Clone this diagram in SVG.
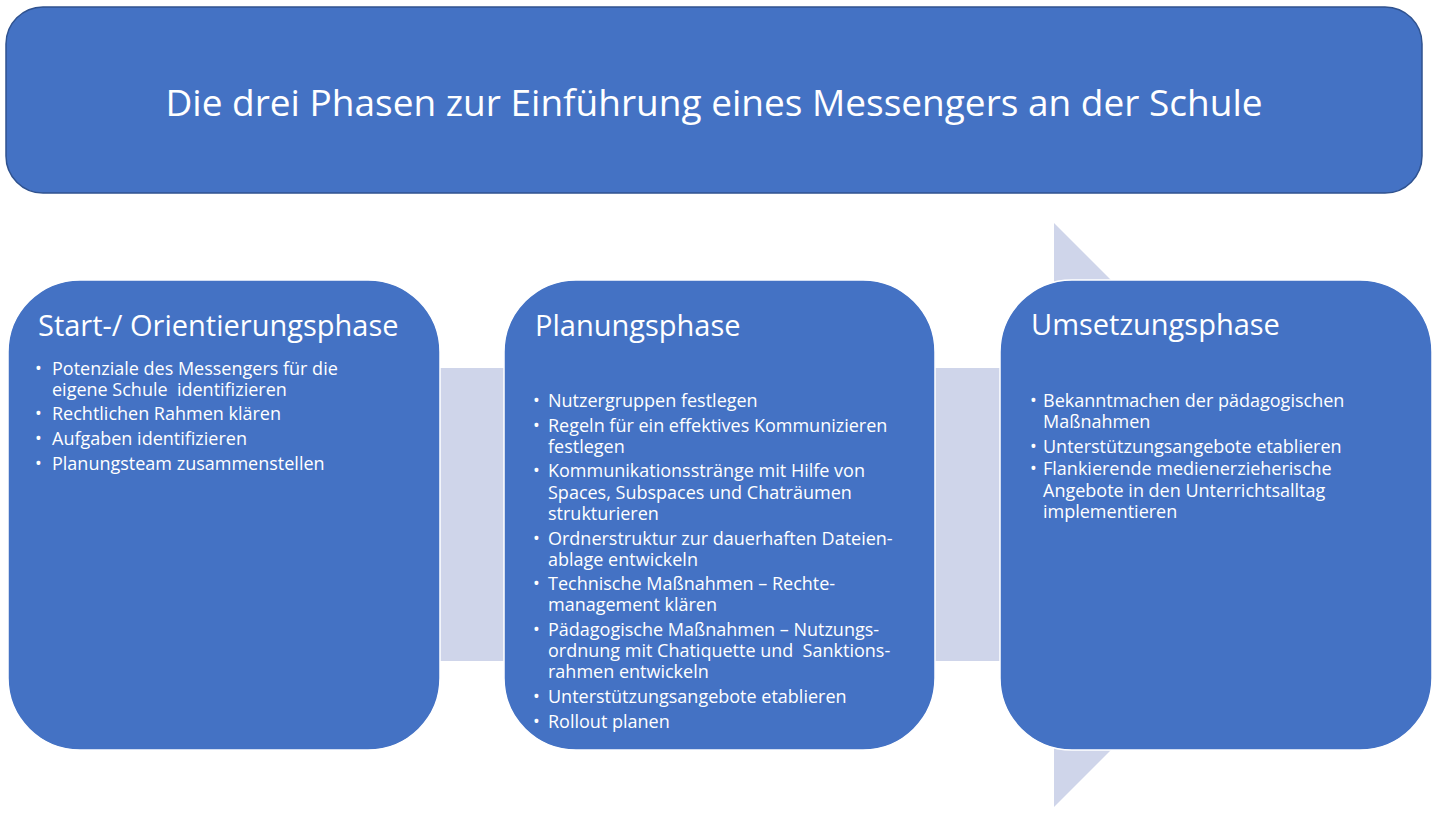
<svg xmlns="http://www.w3.org/2000/svg" width="1440" height="827" viewBox="0 0 1440 827">
<style>
.box{fill:#4472C4;stroke:#FFFFFF;stroke-width:1.5}
.title{font-family:"Open Sans","Noto Sans",sans-serif;font-size:37px;fill:#FFFFFF}
.head{font-family:"Open Sans","Noto Sans",sans-serif;font-size:29px;fill:#FFFFFF}
.body{font-family:"Open Sans","Noto Sans",sans-serif;font-size:18px;fill:#FFFFFF;white-space:pre}
</style>
<rect width="1440" height="827" fill="#FFFFFF"/>
<g id="connectors">
<path d="M100,368 L1054,368 L1054,223 L1346,515 L1054,807 L1054,661 L100,661 Z" fill="#CFD5EA"/>
</g>
<g id="title">
<rect x="6" y="7" width="1416" height="186" rx="37" ry="37" fill="#4472C4" stroke="#2F528F" stroke-width="1.5"/>
<text class="title" x="714" y="116" text-anchor="middle">Die drei Phasen zur Einführung eines Messengers an der Schule</text>
</g>
<g id="phase1">
<rect class="box" x="8" y="280" width="432" height="470" rx="72" ry="72"/>
<text class="head" x="38" y="336">Start-/ Orientierungsphase</text>
<g class="body">
<text x="35" y="375">•</text><text x="52" y="375">Potenziale des Messengers für die</text>
<text x="52" y="396" xml:space="preserve">eigene Schule  identifizieren</text>
<text x="35" y="420">•</text><text x="52" y="420">Rechtlichen Rahmen klären</text>
<text x="35" y="445">•</text><text x="52" y="445">Aufgaben identifizieren</text>
<text x="35" y="470">•</text><text x="52" y="470">Planungsteam zusammenstellen</text>
</g>
</g>
<g id="phase2">
<rect class="box" x="504" y="280" width="431" height="470" rx="72" ry="72"/>
<text class="head" x="535" y="336">Planungsphase</text>
<g class="body">
<text x="533" y="407">•</text><text x="548" y="407">Nutzergruppen festlegen</text>
<text x="533" y="432">•</text><text x="548" y="432">Regeln für ein effektives Kommunizieren</text>
<text x="548" y="453">festlegen</text>
<text x="533" y="477">•</text><text x="548" y="477">Kommunikationsstränge mit Hilfe von</text>
<text x="548" y="499">Spaces, Subspaces und Chaträumen</text>
<text x="548" y="520">strukturieren</text>
<text x="533" y="545">•</text><text x="548" y="545">Ordnerstruktur zur dauerhaften Dateien-</text>
<text x="548" y="566">ablage entwickeln</text>
<text x="533" y="590">•</text><text x="548" y="590">Technische Maßnahmen – Rechte-</text>
<text x="548" y="611">management klären</text>
<text x="533" y="636">•</text><text x="548" y="636">Pädagogische Maßnahmen – Nutzungs-</text>
<text x="548" y="657" xml:space="preserve">ordnung mit Chatiquette und  Sanktions-</text>
<text x="548" y="678">rahmen entwickeln</text>
<text x="533" y="703">•</text><text x="548" y="703">Unterstützungsangebote etablieren</text>
<text x="533" y="728">•</text><text x="548" y="728">Rollout planen</text>
</g>
</g>
<g id="phase3">
<rect class="box" x="1000" y="280" width="432" height="470" rx="72" ry="72"/>
<text class="head" x="1031" y="335">Umsetzungsphase</text>
<g class="body">
<text x="1030" y="407">•</text><text x="1043" y="407">Bekanntmachen der pädagogischen</text>
<text x="1043" y="428">Maßnahmen</text>
<text x="1030" y="453">•</text><text x="1043" y="453">Unterstützungsangebote etablieren</text>
<text x="1030" y="475">•</text><text x="1043" y="475">Flankierende medienerzieherische</text>
<text x="1043" y="497">Angebote in den Unterrichtsalltag</text>
<text x="1043" y="518">implementieren</text>
</g>
</g>
</svg>
